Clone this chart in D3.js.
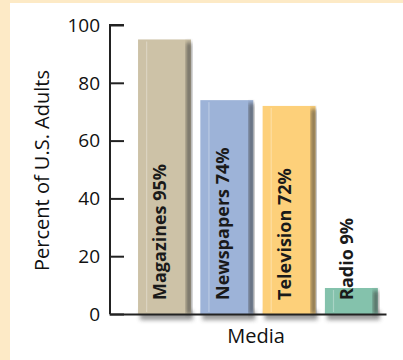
<!DOCTYPE html>
<html><head><meta charset="utf-8">
<script src="https://cdn.jsdelivr.net/npm/d3@7"></script>
<style>html,body{margin:0;padding:0;background:#fdeac6;}svg{display:block;}</style>
</head><body>
<script>
const categories = ["Magazines", "Newspapers", "Television", "Radio"];
const values = [95, 74, 72, 9];
const yTicks = [0, 20, 40, 60, 80, 100];
const colors = ["#cdc2a7", "#9db3d8", "#fdd07a", "#84c2ac"];

const W = 403, H = 360;
const svg = d3.select("body").append("svg").attr("width", W).attr("height", H);
const defs = svg.append("defs");
const blur = defs.append("filter").attr("id","blur").attr("x","-30%").attr("y","-50%").attr("width","160%").attr("height","200%");
blur.append("feGaussianBlur").attr("stdDeviation", 2.2);

svg.append("rect").attr("width", W).attr("height", H).attr("fill", "#fdeac6");
svg.append("rect").attr("x", 10).attr("y", 3).attr("width", W - 10).attr("height", H - 3).attr("fill", "#ffffff");

const font = "'Open Sans', 'Noto Sans', sans-serif";
const x0 = 110, x1 = 386, yTop = 25, yBot = 314;
const y = d3.scaleLinear().domain([0, 100]).range([yBot, yTop]);
const x = d3.scaleBand().domain(categories).range([128.7, 387.2]).paddingInner(0.15).paddingOuter(0.15);

// shadows below bars
svg.append("g").selectAll("rect").data(categories).join("rect")
  .attr("x", d => x(d) + 2).attr("y", yBot - 3)
  .attr("width", x.bandwidth()).attr("height", 9)
  .attr("fill", "#5a5a5a").attr("opacity", 0.6).attr("filter", "url(#blur)");

// bars
const bars = svg.append("g");
bars.selectAll("rect.bar").data(categories).join("rect").attr("class","bar")
  .attr("x", d => x(d)).attr("y", (d,i) => y(values[i]))
  .attr("width", x.bandwidth()).attr("height", (d,i) => yBot - y(values[i]))
  .attr("fill", (d,i) => colors[i]);
// dark right edge
bars.selectAll("rect.edge").data(categories).join("rect").attr("class","edge")
  .attr("x", d => x(d) + x.bandwidth() - 4).attr("y", (d,i) => y(values[i]) + 3)
  .attr("width", 4).attr("height", (d,i) => yBot - y(values[i]) - 3)
  .attr("fill", "#3e3e3a").attr("opacity", 0.85).attr("filter", "url(#blur)");
bars.selectAll("rect.hl").data(categories).join("rect").attr("class","hl")
  .attr("x", d => x(d) + 8).attr("y", (d,i) => y(values[i]) + 2)
  .attr("width", 1.2).attr("height", (d,i) => yBot - y(values[i]) - 4)
  .attr("fill", "#ffffff").attr("opacity", 0.3);

// bar labels
svg.append("g").selectAll("text").data(categories).join("text")
  .attr("transform", d => `translate(${x(d) + x.bandwidth()/2 - 3},${yBot - 14}) rotate(-90)`)
  .attr("dominant-baseline", "middle")
  .attr("font-family", font).attr("font-weight", "bold").attr("font-size", 18)
  .attr("fill", "#1a1a1a")
  .text((d,i) => `${d} ${values[i]}%`);

// y axis
const yAxis = d3.axisRight(y).tickValues(yTicks).tickSize(14).tickFormat("");
const gy = svg.append("g").attr("transform", `translate(${x0},0)`).call(yAxis);
gy.select(".domain").attr("stroke", "#222").attr("stroke-width", 2).attr("d", `M14,${yTop}H0V${yBot}`);
gy.selectAll(".tick line").attr("stroke", "#222").attr("stroke-width", 2);
svg.append("g").selectAll("text").data(yTicks).join("text")
  .attr("x", 100).attr("y", d => y(d)).attr("dy", "0.36em")
  .attr("text-anchor", "end").attr("font-family", font).attr("font-size", 19).attr("fill", "#111")
  .text(d => d);

// x axis line
const gx = svg.append("g").attr("transform", `translate(0,${yBot})`)
  .call(d3.axisBottom(d3.scaleLinear().domain([0,1]).range([x0 - 1, x1])).tickValues([]).tickSizeOuter(0));
gx.select(".domain").attr("stroke", "#222").attr("stroke-width", 2);

// titles
svg.append("text").attr("transform", `translate(44,${(yTop + yBot)/2 + 1}) rotate(-90)`)
  .attr("text-anchor", "middle").attr("dominant-baseline", "middle")
  .attr("font-family", font).attr("font-size", 20).attr("fill", "#111").text("Percent of U.S. Adults");
svg.append("text").attr("x", 256).attr("y", 338).attr("text-anchor", "middle").attr("dominant-baseline", "middle")
  .attr("font-family", font).attr("font-size", 20).attr("fill", "#111").text("Media");
</script>
</body></html>
